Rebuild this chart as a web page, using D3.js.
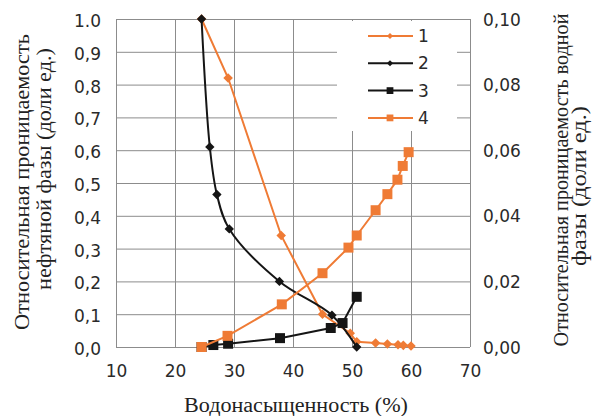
<!DOCTYPE html>
<html>
<head>
<meta charset="utf-8">
<script src="https://cdn.jsdelivr.net/npm/d3@7"></script>
<style>
  html, body { margin: 0; padding: 0; background: #fff; }
  svg { display: block; }
  text.axis-title { font-family: "Liberation Serif", "Times New Roman", serif; }
</style>
</head>
<body>
<div id="graph"></div>
<script>
// curve 1 & 2: oil phase (left axis), curve 3 & 4: water phase (right axis)
const satOil1 = [24.5, 29, 38, 45, 49.7, 50.8, 54, 56, 57.8, 58.7, 60]
const krOil1 = [1.0, 0.82, 0.34, 0.10, 0.042, 0.016, 0.012, 0.009, 0.007, 0.005, 0.003]

const satOil2 = [24.5, 25.9, 27.1, 29.2, 37.7, 46.6, 50.8]
const krOil2 = [1.0, 0.61, 0.465, 0.36, 0.20, 0.097, 0.0]

const satWater3 = [24.5, 26.5, 29, 37.8, 46.4, 48.4, 50.8]
const krWater3 = [0, 0.0006, 0.001, 0.0027, 0.0058, 0.0073, 0.0153]

const satWater4 = [24.5, 28.9, 38.1, 45.0, 49.4, 50.8, 54.0, 56.0, 57.7, 58.6, 59.6]
const krWater4 = [0, 0.0034, 0.013, 0.0225, 0.0303, 0.034, 0.0417, 0.0466, 0.051, 0.0552, 0.0594]

const xTicks = [10, 20, 30, 40, 50, 60, 70]
const leftTicks = [0, 0.1, 0.2, 0.3, 0.4, 0.5, 0.6, 0.7, 0.8, 0.9, 1.0]
const leftTickLabels = ['0,0', '0,1', '0,2', '0,3', '0,4', '0,5', '0,6', '0,7', '0,8', '0,9', '1.0']
const rightTicks = [0, 0.02, 0.04, 0.06, 0.08, 0.10]
const rightTickLabels = ['0,00', '0,02', '0,04', '0,06', '0,08', '0,10']
const legendNames = ['1', '2', '3', '4']

const W = 593, H = 416
const PLOT = { LEFT: 116, RIGHT: 470, TOP: 19, BOTTOM: 347 }
const ORANGE = '#ef7b35', BLACK = '#151515', GRID = '#8c8c8c'
const TICK_FONT = 'DejaVu Sans'

const zip = (xs, ys) => xs.map((x, i) => ({ x, y: ys[i] }))

const series = [
  { name: legendNames[0], data: zip(satOil1, krOil1), axis: 'left', color: ORANGE, symbol: d3.symbolDiamond2, size: 58, legendSize: 24, curve: d3.curveLinear },
  { name: legendNames[1], data: zip(satOil2, krOil2), axis: 'left', color: BLACK, symbol: d3.symbolDiamond2, size: 56, legendSize: 24, curve: d3.curveCatmullRom },
  { name: legendNames[2], data: zip(satWater3, krWater3), axis: 'right', color: BLACK, symbol: d3.symbolSquare, size: 100, legendSize: 46, curve: d3.curveLinear },
  { name: legendNames[3], data: zip(satWater4, krWater4), axis: 'right', color: ORANGE, symbol: d3.symbolSquare, size: 100, legendSize: 46, curve: d3.curveLinear }
]

const xScale = d3.scaleLinear().domain([10, 70]).range([PLOT.LEFT, PLOT.RIGHT])
const yLeft = d3.scaleLinear().domain([0, 1]).range([PLOT.BOTTOM, PLOT.TOP])
const yRight = d3.scaleLinear().domain([0, 0.1]).range([PLOT.BOTTOM, PLOT.TOP])

const svg = d3.select('#graph')
  .append('svg')
  .attr('width', W)
  .attr('height', H)

// grid
const styleGrid = g => {
  g.selectAll('line').attr('stroke', GRID).attr('stroke-width', 1)
  g.select('.domain').remove()
  g.selectAll('text').remove()
}
svg.append('g')
  .attr('transform', `translate(0,${PLOT.BOTTOM})`)
  .call(d3.axisBottom(xScale).tickValues(xTicks).tickSize(-(PLOT.BOTTOM - PLOT.TOP)))
  .call(styleGrid)
svg.append('g')
  .attr('transform', `translate(${PLOT.LEFT},0)`)
  .call(d3.axisLeft(yLeft).tickValues(leftTicks).tickSize(-(PLOT.RIGHT - PLOT.LEFT)))
  .call(styleGrid)

// tick labels
const styleLabels = g => {
  g.attr('font-family', TICK_FONT).attr('font-size', 17)
  g.select('.domain').remove()
  g.selectAll('line').remove()
  g.selectAll('text').attr('fill', '#2a2a2a')
}
svg.append('g')
  .attr('transform', `translate(${PLOT.LEFT},0)`)
  .call(d3.axisLeft(yLeft).tickValues(leftTicks).tickSize(0).tickPadding(15)
    .tickFormat((d, i) => leftTickLabels[i]))
  .call(styleLabels)
  .selectAll('text').attr('dy', '0.44em')
svg.append('g')
  .attr('transform', `translate(${PLOT.RIGHT},0)`)
  .call(d3.axisRight(yRight).tickValues(rightTicks).tickSize(0).tickPadding(13)
    .tickFormat((d, i) => rightTickLabels[i]))
  .call(styleLabels)
  .selectAll('text').attr('dy', '0.36em')
svg.append('g')
  .attr('transform', `translate(0,${PLOT.BOTTOM})`)
  .call(d3.axisBottom(xScale).tickValues(xTicks).tickSize(0).tickPadding(18)
    .tickFormat(d3.format('d')))
  .call(styleLabels)

// axis titles, stretched along the line to the width seen in the picture
const title = (txt, x, y, len, size, rotate) => {
  const t = svg.append('text')
    .attr('class', 'axis-title')
    .attr('text-anchor', 'middle')
    .attr('fill', '#222')
    .attr('font-size', size)
    .text(txt)
  const k = len / t.node().getComputedTextLength()
  t.attr('transform', `translate(${x},${y})${rotate ? ' rotate(-90)' : ''} scale(${k},1)`)
}
title('Относительная проницаемость', 29, 182, 296, 21, true)
title('нефтяной фазы (доли ед.)', 51, 169, 242, 21, true)
title('Относительная проницаемость водной', 568, 180, 333, 21, true)
title('фазы (доли ед.)', 586, 186, 160, 21, true)
title('Водонасыщенность (%)', 296, 412, 224, 20, false)

// legend box (covers the grid)
const legendX = 337, legendY = 21
const legend = svg.append('g').attr('transform', `translate(${legendX},${legendY})`)
legend.append('rect')
  .attr('width', 120)
  .attr('height', 110)
  .attr('fill', '#fff')

// series
series.forEach(s => {
  const yScale = s.axis === 'left' ? yLeft : yRight
  const line = d3.line()
    .x(d => xScale(d.x))
    .y(d => yScale(d.y))
    .curve(s.curve)
  const g = svg.append('g')
  g.append('path')
    .datum(s.data)
    .attr('d', line)
    .attr('fill', 'none')
    .attr('stroke', s.color)
    .attr('stroke-width', 2)
  g.selectAll('path.marker')
    .data(s.data)
    .enter()
    .append('path')
    .attr('class', 'marker')
    .attr('d', d3.symbol().type(s.symbol).size(s.size))
    .attr('transform', d => `translate(${xScale(d.x)},${yScale(d.y)})`)
    .attr('fill', s.color)
})

const rows = legend.selectAll('g.row')
  .data(series)
  .enter()
  .append('g')
  .attr('class', 'row')
  .attr('transform', (d, i) => `translate(0,${15 + i * 27.3})`)
rows.append('line')
  .attr('x1', 31)
  .attr('x2', 76)
  .attr('stroke', d => d.color)
  .attr('stroke-width', 2)
rows.append('path')
  .attr('d', d => d3.symbol().type(d.symbol).size(d.legendSize)())
  .attr('transform', 'translate(53,0)')
  .attr('fill', d => d.color)
rows.append('text')
  .attr('x', 81)
  .attr('dy', '0.36em')
  .attr('fill', '#2a2a2a')
  .attr('font-family', TICK_FONT)
  .attr('font-size', 17)
  .text(d => d.name)
</script>
</body>
</html>
